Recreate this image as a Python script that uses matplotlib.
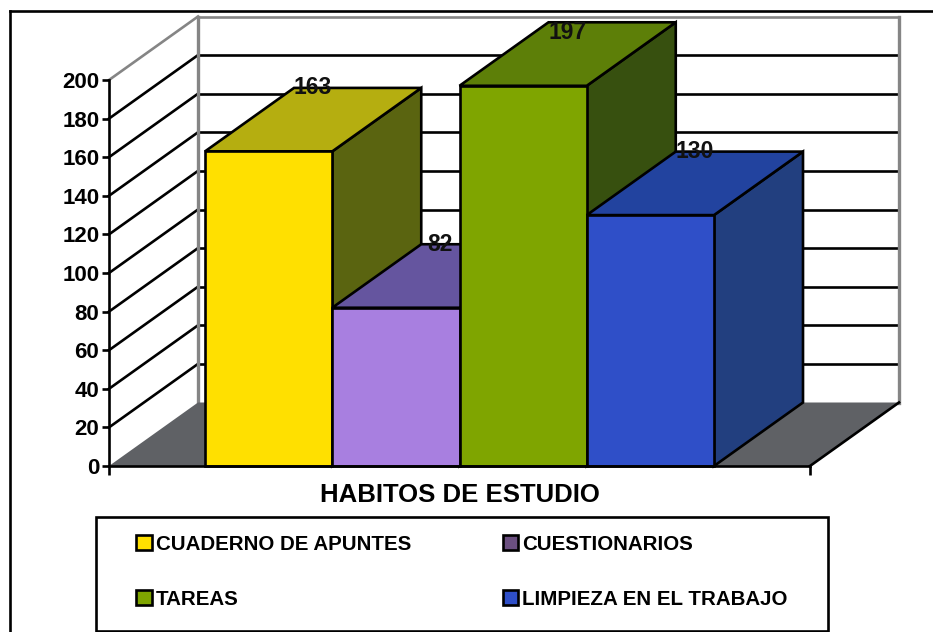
import matplotlib
matplotlib.use("Agg")
import matplotlib.pyplot as plt
from matplotlib.lines import Line2D
from matplotlib.patches import Patch, Polygon, Rectangle

categories = ["CUADERNO DE APUNTES", "CUESTIONARIOS", "TAREAS", "LIMPIEZA EN EL TRABAJO"]
values = [163, 82, 197, 130]
y_ticks = [0, 20, 40, 60, 80, 100, 120, 140, 160, 180, 200]
axis_title = "HABITOS DE ESTUDIO"

front_colors = ["#FFE000", "#A87FE0", "#7FA500", "#2F4FC8"]
top_colors = ["#B5AE10", "#65559F", "#5D7F08", "#22439F"]
side_colors = ["#5A6410", "#4A3F80", "#37500F", "#223F7F"]
legend_colors = ["#FFE000", "#6B4F80", "#7FA500", "#2F4FC8"]
floor_color = "#5F6165"
wall_color = "#858585"

W, H = 933, 632
# pixel sizes of the scales
unit_x = 127.25
unit_y = 1.93
left_px = 205
zero_px = 466
line_w = 1.9

def px(x):
    return (x - left_px) / unit_x

def py(y):
    return (zero_px - y) / unit_y

plt.rcParams["font.family"] = ["Liberation Sans", "DejaVu Sans"]
plt.rcParams["font.weight"] = "bold"

fig = plt.figure(figsize=(W / 100, H / 100), dpi=100)
ax = fig.add_axes([0, 0, 1, 1])
ax.set_xlim(px(0), px(W))
ax.set_ylim(py(H), py(0))
ax.patch.set_visible(False)

depth_x = 89 / unit_x
depth_y = 63.5 / unit_y
x0 = px(109)
x1 = px(810)

# outer frame, only top and left are in the picture
fig.add_artist(Line2D([10 / W, 10 / W], [0, 1 - 11 / H], color="black", lw=line_w))
fig.add_artist(Line2D([10 / W, 1], [1 - 11 / H, 1 - 11 / H], color="black", lw=line_w))

# walls
for v in y_ticks[1:]:
    c = wall_color if v == 200 else "black"
    ax.plot([x0, x0 + depth_x], [v, v + depth_y], color=c, lw=line_w, zorder=1)
    ax.plot([x0 + depth_x, x1 + depth_x], [v + depth_y, v + depth_y], color=c, lw=line_w, zorder=1)
ax.plot([x0 + depth_x] * 2, [depth_y, 200 + depth_y], color=wall_color, lw=2.4, zorder=1.5)
ax.plot([x1 + depth_x] * 2, [depth_y, 200 + depth_y], color=wall_color, lw=2.4, zorder=1.5)

# floor
floor = [(x0, 0), (x0 + depth_x, depth_y), (x1 + depth_x, depth_y), (x1, 0)]
ax.add_patch(Polygon(floor, closed=True, facecolor=floor_color, edgecolor="none", zorder=2))
ax.plot([x1, x1 + depth_x], [0, depth_y], color="black", lw=line_w, zorder=2.2)

# bars, left to right so the later ones cover the earlier sides
for i, v in enumerate(values):
    z = 3 + i
    side = [(i + 1, 0), (i + 1 + depth_x, depth_y), (i + 1 + depth_x, v + depth_y), (i + 1, v)]
    top = [(i, v), (i + depth_x, v + depth_y), (i + 1 + depth_x, v + depth_y), (i + 1, v)]
    ax.add_patch(Polygon(side, closed=True, facecolor=side_colors[i], edgecolor="black", lw=line_w, zorder=z))
    ax.add_patch(Polygon(top, closed=True, facecolor=top_colors[i], edgecolor="black", lw=line_w, zorder=z))
    ax.bar(i, v, width=1, align="edge", color=front_colors[i], edgecolor="black", lw=line_w, zorder=z)

# data labels sit on the back edge of each top, 197 is pushed down to stay in the frame
for i, v in enumerate(values):
    ly = v + depth_y
    if v == 197:
        ly = ly - 5.2
    ax.text(i + 108 / unit_x, ly, str(v), ha="center", va="center", fontsize=16.5, color="#111111", zorder=10)

# axes
for s in ["top", "right"]:
    ax.spines[s].set_visible(False)
ax.spines["left"].set_position(("data", x0))
ax.spines["left"].set_bounds(0, 200)
ax.spines["left"].set_linewidth(line_w)
ax.spines["bottom"].set_position(("data", 0))
ax.spines["bottom"].set_bounds(x0, x1)
ax.spines["bottom"].set_linewidth(line_w)
ax.spines["bottom"].set_zorder(8)
ax.set_yticks(y_ticks)
ax.set_xticks([x0, x1])
ax.set_xticklabels([])
ax.tick_params(axis="y", length=5, width=line_w, pad=2, labelsize=16)
ax.tick_params(axis="x", length=6.5, width=line_w)

ax.text(px(460), py(495), axis_title, ha="center", va="center", fontsize=18.5)

# legend box
ax.add_patch(Rectangle((px(96), py(631)), px(828) - px(96), py(517) - py(631),
                       facecolor="white", edgecolor="black", lw=line_w, zorder=2))
handles = [Patch(facecolor=legend_colors[i], edgecolor="black", lw=line_w) for i in [0, 2, 1, 3]]
labels = [categories[i] for i in [0, 2, 1, 3]]
ax.legend(handles, labels, ncol=2, frameon=False, loc="center",
          bbox_to_anchor=(462 / W, 1 - 572 / H), fontsize=14.8,
          handlelength=0.75, handleheight=0.75, handletextpad=0.2,
          columnspacing=4.45, labelspacing=1.75, borderpad=0, borderaxespad=0)

fig.savefig("out.png", dpi=100)
